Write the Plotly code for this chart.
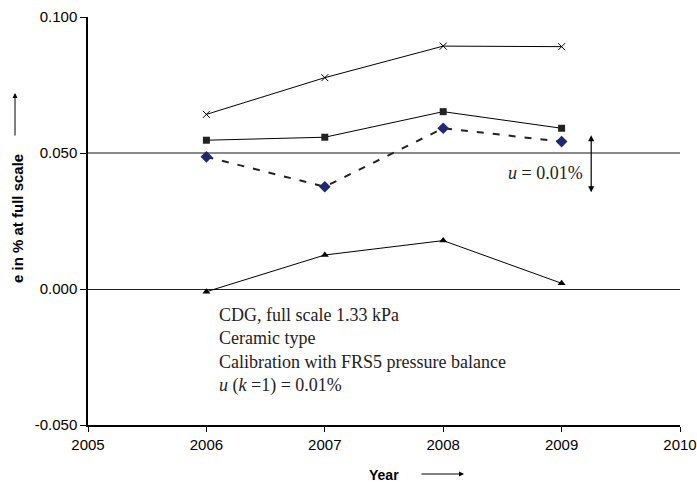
import plotly.graph_objects as go

years = [2006, 2007, 2008, 2009]
cross_vals = [0.0642, 0.0777, 0.0893, 0.0891]
square_vals = [0.0547, 0.0558, 0.0652, 0.0591]
diamond_vals = [0.0486, 0.0376, 0.0591, 0.0542]
triangle_vals = [-0.0010, 0.0125, 0.0178, 0.0021]

y_ticks = [-0.05, 0.0, 0.05, 0.1]
y_tick_text = ["-0.050", "0.000", "0.050", "0.100"]
x_ticks = [2005, 2006, 2007, 2008, 2009, 2010]

L, R, T, B = 88, 17, 17, 60
W, H = 697, 485
PW, PH = W - L - R, H - T - B


def px(xp):
    return (xp - L) / PW


def py(yp):
    return (H - B - yp) / PH


fig = go.Figure()
fig.add_trace(go.Scatter(x=years, y=cross_vals, mode="lines+markers",
                         line=dict(color="black", width=1),
                         marker=dict(symbol="x-thin", size=7, color="black",
                                     line=dict(color="black", width=1))))
fig.add_trace(go.Scatter(x=years, y=square_vals, mode="lines+markers",
                         line=dict(color="black", width=1),
                         marker=dict(symbol="square", size=7, color="#222222")))
fig.add_trace(go.Scatter(x=years, y=diamond_vals, mode="lines+markers",
                         line=dict(color="#222222", width=2, dash="7px,9px"),
                         marker=dict(symbol="diamond", size=9, color="#1f2878")))
fig.add_trace(go.Scatter(x=years, y=triangle_vals, mode="lines+markers",
                         line=dict(color="black", width=1),
                         marker=dict(symbol="triangle-up", size=7, color="black")))

# double arrow for uncertainty
fig.add_annotation(x=2009.25, y=0.0565, ax=2009.25, ay=0.0350, xref="x", yref="y",
                   axref="x", ayref="y", text="", showarrow=True,
                   arrowhead=2, arrowside="end+start", arrowsize=1, arrowwidth=1.2,
                   arrowcolor="black")
fig.add_annotation(x=2009.2, y=0.0425, xref="x", yref="y", text="<i>u</i> = 0.01%",
                   showarrow=False, xanchor="right",
                   font=dict(family="Liberation Serif", size=18, color="#222"))

fig.add_annotation(x=px(217), y=py(303), xref="paper", yref="paper", xanchor="left", yanchor="top",
                   align="left", showarrow=False,
                   text="CDG, full scale 1.33 kPa<br>Ceramic type<br>Calibration with FRS5 pressure balance<br><i>u</i> (<i>k</i> =1) = 0.01%",
                   font=dict(family="Liberation Serif", size=18, color="#222"))

# axis titles
fig.add_annotation(x=px(384), y=py(475), xref="paper", yref="paper", text="<b>Year</b>",
                   showarrow=False, xanchor="center", yanchor="middle",
                   font=dict(family="Liberation Sans", size=14, color="black"))
fig.add_annotation(x=px(17), y=py(219), xref="paper", yref="paper",
                   text="<b>e in % at full scale</b>",
                   showarrow=False, textangle=-90, xanchor="center", yanchor="middle",
                   font=dict(family="Liberation Sans", size=15, color="black"))

# axis-title arrows
fig.add_annotation(x=px(464), y=py(474), ax=-44, ay=0,
                   xref="paper", yref="paper", axref="pixel", ayref="pixel",
                   text="", showarrow=True, arrowhead=2, arrowsize=1, arrowwidth=1,
                   arrowcolor="black")
fig.add_annotation(x=px(15), y=py(93), ax=0, ay=44,
                   xref="paper", yref="paper", axref="pixel", ayref="pixel",
                   text="", showarrow=True, arrowhead=2, arrowsize=1, arrowwidth=1,
                   arrowcolor="black")

fig.update_layout(
    width=W, height=H,
    margin=dict(l=L, r=R, t=T, b=B, autoexpand=False),
    plot_bgcolor="white", paper_bgcolor="white",
    showlegend=False,
    xaxis=dict(range=[2005, 2010], tickvals=x_ticks, showgrid=False, zeroline=False,
               automargin=False,
               showline=True, linecolor="black", linewidth=1.5,
               ticks="outside", ticklen=5, tickcolor="black",
               tickfont=dict(family="Liberation Sans", size=15, color="black")),
    yaxis=dict(range=[-0.05, 0.1], tickvals=y_ticks, ticktext=y_tick_text,
               automargin=False,
               showgrid=True, gridcolor="#8a8a8a", gridwidth=1.5,
               zeroline=True, zerolinecolor="#222", zerolinewidth=1,
               showline=True, linecolor="black", linewidth=1.5,
               ticks="outside", ticklen=6, tickcolor="black",
               tickfont=dict(family="Liberation Sans", size=15, color="black")),
)

fig.write_html("out.html", config={"displayModeBar": False},
               post_script="document.body.style.margin='0';document.body.style.padding='0';")
